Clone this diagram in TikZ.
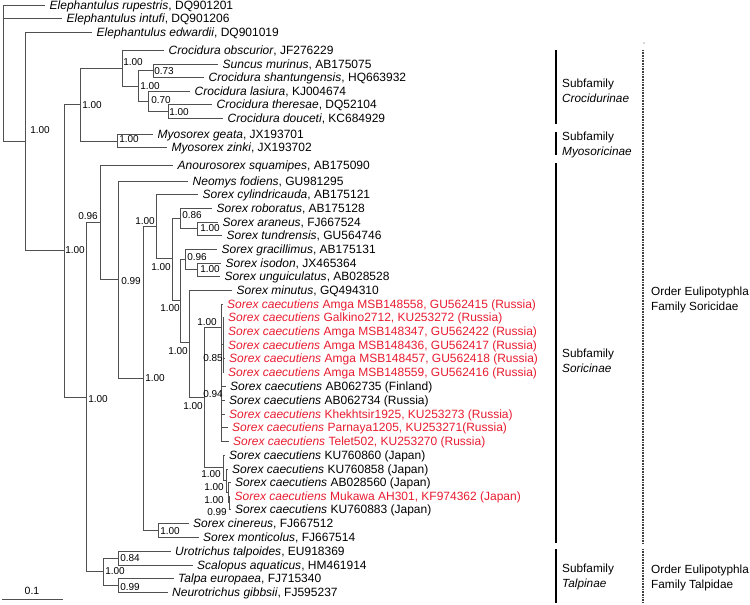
\documentclass[tikz,border=0pt]{standalone}
\usepackage{fontspec}
\setmainfont{Liberation Sans}
\definecolor{branch}{RGB}{80,80,80}
\definecolor{sorexred}{RGB}{232,28,48}

\begin{document}
\begin{tikzpicture}[x=1pt, y=-1pt,
  br/.style={draw=branch, line width=0.8pt},
  leaf/.style={anchor=west, inner xsep=4.5pt, inner ysep=0pt,
    text height=8.6pt, text depth=0pt, font=\fontsize{12}{14}\selectfont},
  redleaf/.style={leaf, text=sorexred},
  supp/.style={inner sep=0pt, text height=7.2pt, text depth=0pt,
    font=\fontsize{10}{12}\selectfont},
  bar/.style={line width=2pt},
  rank/.style={draw=black!75, line width=1.2pt, dash pattern=on 0.8pt off 0.8pt},
  grp/.style={anchor=west, align=left, inner sep=0pt,
    font=\fontsize{11.8}{15}\selectfont}]
  \useasboundingbox (0,0) rectangle (750,605);

  % Internal nodes
  \coordinate (R) at (3,73);
  \coordinate (A) at (25,141.5);
  \coordinate (B) at (64,250.5);
  \coordinate (C) at (80,104.5);
  \coordinate (Cro) at (122,68.5);
  \coordinate (CS) at (138,86);
  \coordinate (SS) at (153,70.75);
  \coordinate (LS) at (148,101);
  \coordinate (TD) at (168,111.25);
  \coordinate (Myo) at (117,141);
  \coordinate (D) at (86,397);
  \coordinate (E) at (100,222);
  \coordinate (F) at (118,279);
  \coordinate (G) at (143,378);
  \coordinate (H) at (156,226);
  \coordinate (I) at (172,258.5);
  \coordinate (J) at (180,218);
  \coordinate (AT) at (197.5,228.5);
  \coordinate (L) at (180,300);
  \coordinate (GIU) at (185,259);
  \coordinate (IU) at (197,269.5);
  \coordinate (M) at (189,342);
  \coordinate (N) at (204,397);
  \coordinate (O) at (221,327);
  \coordinate (O2) at (223,344.5);
  \coordinate (P) at (223,467.5);
  \coordinate (P2) at (226,480.5);
  \coordinate (P3) at (228,492);
  \coordinate (P4) at (229,502.5);
  \coordinate (CM) at (158,530);
  \coordinate (T) at (103,571.5);
  \coordinate (US) at (118,558);
  \coordinate (TN) at (118,585);

  % Leaves
  \node[leaf] (n1) at (45,5.5) {\textit{Elephantulus rupestris}, DQ901201};
  \node[leaf] (n2) at (62,18.5) {\textit{Elephantulus intufi}, DQ901206};
  \node[leaf] (n3) at (92,32.5) {\textit{Elephantulus edwardii}, DQ901019};
  \node[leaf] (n4) at (164,50.5) {\textit{Crocidura obscurior}, JF276229};
  \node[leaf] (n5) at (218,64) {\textit{Suncus murinus}, AB175075};
  \node[leaf] (n6) at (204,77.5) {\textit{Crocidura shantungensis}, HQ663932};
  \node[leaf] (n7) at (190,91) {\textit{Crocidura lasiura}, KJ004674};
  \node[leaf] (n8) at (212,104.5) {\textit{Crocidura theresae}, DQ52104};
  \node[leaf] (n9) at (223,118) {\textit{Crocidura douceti}, KC684929};
  \node[leaf] (n10) at (153,134.5) {\textit{Myosorex geata}, JX193701};
  \node[leaf] (n11) at (167,147.5) {\textit{Myosorex zinki}, JX193702};
  \node[leaf] (n12) at (173,165) {\textit{Anourosorex squamipes}, AB175090};
  \node[leaf] (n13) at (188,181) {\textit{Neomys fodiens}, GU981295};
  \node[leaf] (n14) at (198,194) {\textit{Sorex cylindricauda}, AB175121};
  \node[leaf] (n15) at (212,208) {\textit{Sorex roboratus}, AB175128};
  \node[leaf] (n16) at (218,222) {\textit{Sorex araneus}, FJ667524};
  \node[leaf] (n17) at (222,235) {\textit{Sorex tundrensis}, GU564746};
  \node[leaf] (n18) at (217,249) {\textit{Sorex gracillimus}, AB175131};
  \node[leaf] (n19) at (221,263) {\textit{Sorex isodon}, JX465364};
  \node[leaf] (n20) at (220,276) {\textit{Sorex unguiculatus}, AB028528};
  \node[leaf] (n21) at (232,290) {\textit{Sorex minutus}, GQ494310};
  \node[redleaf] (n22) at (222.5,304) {\textit{Sorex caecutiens} Amga MSB148558, GU562415 (Russia)};
  \node[redleaf] (n23) at (223.5,317.5) {\textit{Sorex caecutiens} Galkino2712, KU253272 (Russia)};
  \node[redleaf] (n24) at (223.5,331) {\textit{Sorex caecutiens} Amga MSB148347, GU562422 (Russia)};
  \node[redleaf] (n25) at (223.5,345) {\textit{Sorex caecutiens} Amga MSB148436, GU562417 (Russia)};
  \node[redleaf] (n26) at (224.5,358.5) {\textit{Sorex caecutiens} Amga MSB148457, GU562418 (Russia)};
  \node[redleaf] (n27) at (223.5,372) {\textit{Sorex caecutiens} Amga MSB148559, GU562416 (Russia)};
  \node[leaf] (n28) at (225.5,386) {\textit{Sorex caecutiens} AB062735 (Finland)};
  \node[leaf] (n29) at (224.5,400) {\textit{Sorex caecutiens} AB062734 (Russia)};
  \node[redleaf] (n30) at (224.5,414) {\textit{Sorex caecutiens} Khekhtsir1925, KU253273 (Russia)};
  \node[redleaf] (n31) at (227.5,427.5) {\textit{Sorex caecutiens} Parnaya1205, KU253271(Russia)};
  \node[redleaf] (n32) at (228.5,441) {\textit{Sorex caecutiens} Telet502, KU253270 (Russia)};
  \node[leaf] (n33) at (224.5,455) {\textit{Sorex caecutiens} KU760860 (Japan)};
  \node[leaf] (n34) at (227.5,469) {\textit{Sorex caecutiens} KU760858 (Japan)};
  \node[leaf] (n35) at (230.5,482) {\textit{Sorex caecutiens} AB028560 (Japan)};
  \node[redleaf] (n36) at (230,496) {\textit{Sorex caecutiens} Mukawa AH301, KF974362 (Japan)};
  \node[leaf] (n37) at (230.5,509) {\textit{Sorex caecutiens} KU760883 (Japan)};
  \node[leaf] (n38) at (188.5,523.5) {\textit{Sorex cinereus}, FJ667512};
  \node[leaf] (n39) at (198.5,537) {\textit{Sorex monticolus}, FJ667514};
  \node[leaf] (n40) at (170.5,551.5) {\textit{Urotrichus talpoides}, EU918369};
  \node[leaf] (n41) at (192.5,565) {\textit{Scalopus aquaticus}, HM461914};
  \node[leaf] (n42) at (173.5,578) {\textit{Talpa europaea}, FJ715340};
  \node[leaf] (n43) at (167.5,592) {\textit{Neurotrichus gibbsii}, FJ595237};

  % Branches
  \foreach \p/\c in {R/n1.west, R/n2.west, R/A, A/n3.west, A/B, B/C, B/D,
      C/Cro, C/Myo, Cro/n4.west, Cro/CS, CS/SS, CS/LS, SS/n5.west, SS/n6.west,
      LS/n7.west, LS/TD, TD/n8.west, TD/n9.west, Myo/n10.west, Myo/n11.west,
      D/E, D/T, E/n12.west, E/F, F/n13.west, F/G, G/H, G/CM, H/n14.west, H/I,
      I/J, I/L, J/n15.west, J/AT, AT/n16.west, AT/n17.west, L/GIU, L/M,
      GIU/n18.west, GIU/IU, IU/n19.west, IU/n20.west, M/n21.west, M/N, N/O, N/P,
      O/n22.west, O/O2, O2/n23.west, O2/n24.west, O2/n25.west, O2/n26.west,
      O2/n27.west, O/n28.west, O/n29.west, O/n30.west, O/n31.west, O/n32.west,
      P/n33.west, P/P2, P2/n34.west, P2/P3, P3/n35.west, P3/P4, P4/n36.west,
      P4/n37.west, CM/n38.west, CM/n39.west, T/US, T/TN, US/n40.west,
      US/n41.west, TN/n42.west, TN/n43.west}
    \draw[br] (\p) |- (\c);

  % Support values
  \node[supp] (sA) at (40,130) {1.00};
  \node[supp] (sB) at (75,250) {1.00};
  \node[supp] (sC) at (92,105) {1.00};
  \node[supp] (sCro) at (133,62) {1.00};
  \node[supp] (sCS) at (150,86) {1.00};
  \node[supp] (sSS) at (164,71) {0.73};
  \node[supp] (sLS) at (161,100) {0.70};
  \node[supp] (sTD) at (179,112) {1.00};
  \node[supp] (sMyo) at (129,139) {1.00};
  \node[supp] (sD) at (98,399) {1.00};
  \node[supp] (sE) at (88,216) {0.96};
  \node[supp] (sF) at (131,281) {0.99};
  \node[supp] (sG) at (155,378) {1.00};
  \node[supp] (sH) at (145,221) {1.00};
  \node[supp] (sI) at (161,267) {1.00};
  \node[supp] (sJ) at (192,215) {0.86};
  \node[supp] (sAT) at (210,228) {1.00};
  \node[supp] (sL) at (170,308) {1.00};
  \node[supp] (sGIU) at (197,257) {0.96};
  \node[supp] (sIU) at (210,269) {1.00};
  \node[supp] (sM) at (178,351) {1.00};
  \node[supp] (sN) at (193,406) {1.00};
  \node[supp] (sO) at (207,322) {1.00};
  \node[supp] (sO2) at (213,358) {0.85};
  \node[supp] (sO3) at (213,394) {0.94};
  \node[supp] (sP) at (211,474) {1.00};
  \node[supp] (sP2) at (214,487) {1.00};
  \node[supp] (sP3) at (214,500) {1.00};
  \node[supp] (sP4) at (217,512) {0.99};
  \node[supp] (sCM) at (170,531) {1.00};
  \node[supp] (sT) at (115,571) {1.00};
  \node[supp] (sUS) at (130,558) {0.84};
  \node[supp] (sTN) at (130,587) {0.99};

  % Scale bar
  \coordinate (sb0) at (2,599);
  \coordinate (sb1) at (63,599);
  \draw[br] (sb0) -- (sb1);
  \node[supp, font=\fontsize{10.5}{12}\selectfont] (sbl) at (32,591) {0.1};

  % Subfamily bars
  \draw[bar] (556,50) -- (556,124);
  \draw[bar] (556,132) -- (556,155);
  \draw[bar] (556,163) -- (556,543);
  \draw[bar] (556,549) -- (556,603);
  \node[grp] (g1) at (562,90.5) {Subfamily\\\textit{Crocidurinae}};
  \node[grp] (g2) at (562,144.5) {Subfamily\\\textit{Myosoricinae}};
  \node[grp] (g3) at (562,361) {Subfamily\\\textit{Soricinae}};
  \node[grp] (g4) at (562,576.5) {Subfamily\\\textit{Talpinae}};

  % Family lines
  \fill[branch] (644,43) circle (0.6);
  \draw[rank] (643,50) -- (643,543);
  \draw[rank] (643,549) -- (643,602);
  \node[grp] (f1) at (651,300) {Order Eulipotyphla\\Family Soricidae};
  \node[grp] (f2) at (651,577.5) {Order Eulipotyphla\\Family Talpidae};
\end{tikzpicture}
\end{document}
